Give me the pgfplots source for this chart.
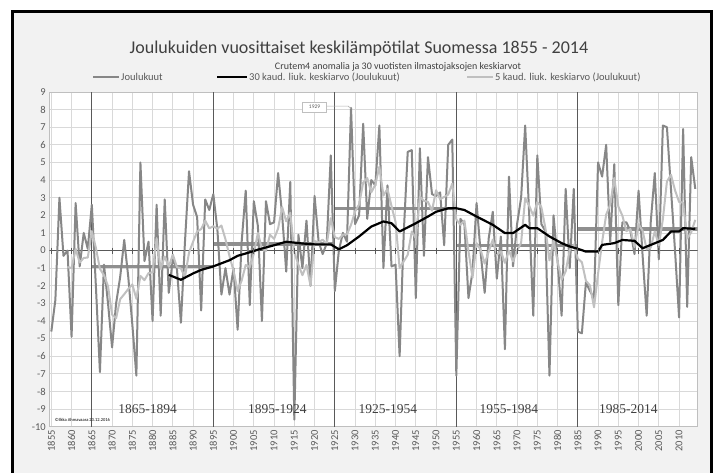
\documentclass[border=0pt]{standalone}
\usepackage{fontspec}
\setmainfont{Carlito}
\newfontfamily\periodfont{Liberation Serif}
\usepackage{pgfplots}
\pgfplotsset{compat=1.18}
\usetikzlibrary{backgrounds}

\definecolor{bggray}{HTML}{F2F2F2}
\definecolor{gridgray}{HTML}{D9D9D9}
\definecolor{framegray}{HTML}{BFBFBF}
\definecolor{tickgray}{HTML}{595959}
\definecolor{maingray}{HTML}{878787}
\definecolor{lightgray5}{HTML}{C0C0C0}
\definecolor{bargray}{HTML}{8F8F8F}
\definecolor{vgray}{HTML}{595959}
\definecolor{titlegray}{HTML}{404040}

\begin{document}
\begin{tikzpicture}
\begin{axis}[
    width=648.4pt, height=334.7pt, scale only axis,
    xmin=1854.5, xmax=2014.6, ymin=-10, ymax=9,
    xtick={1855,1860,...,2010}, ytick={-10,-9,...,9},
    grid=major,
    major grid style={gridgray, line width=0.8pt},
    axis line style={framegray, line width=0.8pt},
    axis background/.style={fill=white},
    tick style={draw=none},
    /pgf/number format/assume math mode=true,
    /pgf/number format/1000 sep={},
    xticklabel style={rotate=90, anchor=east, font=\fontsize{10.5}{12}\selectfont, text=tickgray},
    yticklabel style={font=\fontsize{10.5}{12}\selectfont, text=tickgray},
]
\coordinate (plotSW) at (rel axis cs:0,0);

% zero axis with ticks
\addplot[vgray, line width=1.3pt] coordinates {(1854.5,0) (2014.6,0)};
\addplot[only marks, mark=|, mark size=3pt, vgray, mark options={line width=0.9pt}] coordinates {
(1855,0)(1860,0)(1865,0)(1870,0)(1875,0)(1880,0)(1885,0)(1890,0)(1895,0)(1900,0)(1905,0)
(1910,0)(1915,0)(1920,0)(1925,0)(1930,0)(1935,0)(1940,0)(1945,0)(1950,0)(1955,0)(1960,0)
(1965,0)(1970,0)(1975,0)(1980,0)(1985,0)(1990,0)(1995,0)(2000,0)(2005,0)(2010,0)};

% 30-year period means
\addplot[bargray, line width=3.5pt] coordinates {(1865,-0.91) (1895,-0.91)};
\addplot[bargray, line width=3.5pt] coordinates {(1895,0.36) (1925,0.36)};
\addplot[bargray, line width=3.5pt] coordinates {(1925,2.40) (1955,2.40)};
\addplot[bargray, line width=3.5pt] coordinates {(1955,0.28) (1985,0.28)};
\addplot[bargray, line width=3.5pt] coordinates {(1985,1.23) (2014.6,1.23)};

% period boundaries
\addplot[vgray, line width=1.3pt] coordinates {(1865,-10) (1865,9)};
\addplot[vgray, line width=1.3pt] coordinates {(1895,-10) (1895,9)};
\addplot[vgray, line width=1.3pt] coordinates {(1925,-10) (1925,9)};
\addplot[vgray, line width=1.3pt] coordinates {(1955,-10) (1955,9)};
\addplot[vgray, line width=1.3pt] coordinates {(1985,-10) (1985,9)};

% Joulukuut
\addplot[maingray, line width=2pt, line join=round] coordinates {
(1855,-4.6)(1856,-2.8)(1857,3.0)(1858,-0.3)(1859,0.0)(1860,-4.9)(1861,2.7)(1862,-0.9)(1863,1.0)(1864,0.1)
(1865,2.6)(1866,-2.0)(1867,-6.9)(1868,-0.8)(1869,-3.0)(1870,-5.5)(1871,-3.0)(1872,-1.5)(1873,0.6)(1874,-1.5)
(1875,-4.2)(1876,-7.1)(1877,5.0)(1878,-0.6)(1879,0.5)(1880,-4.0)(1881,2.6)(1882,-3.7)(1883,2.9)(1884,-2.4)
(1885,-0.5)(1886,-1.0)(1887,-4.1)(1888,0.5)(1889,4.5)(1890,2.6)(1891,1.9)(1892,-3.4)(1893,2.9)(1894,2.3)
(1895,3.2)(1896,1.2)(1897,-2.5)(1898,-1.0)(1899,-2.5)(1900,-1.0)(1901,-4.5)(1902,0.5)(1903,3.4)(1904,-3.1)
(1905,2.8)(1906,1.4)(1907,-4.0)(1908,2.8)(1909,1.5)(1910,1.6)(1911,4.4)(1912,2.0)(1913,-1.2)(1914,3.9)
(1915,-9.6)(1916,0.9)(1917,-1.0)(1918,1.7)(1919,-2.0)(1920,3.1)(1921,0.5)(1922,-0.2)(1923,0.4)(1924,5.4)
(1925,-2.3)(1926,0.0)(1927,1.0)(1928,0.5)(1929,8.1)(1930,1.5)(1931,2.0)(1932,7.2)(1933,1.8)(1934,4.0)
(1935,3.7)(1936,7.1)(1937,-1.0)(1938,3.7)(1939,-0.9)(1940,-0.8)(1941,-6.0)(1942,0.9)(1943,5.6)(1944,5.7)
(1945,-2.7)(1946,5.8)(1947,-0.3)(1948,5.3)(1949,3.2)(1950,3.1)(1951,3.3)(1952,0.3)(1953,6.0)(1954,6.3)
(1955,-7.1)(1956,1.8)(1957,1.5)(1958,-2.7)(1959,-1.2)(1960,2.7)(1961,-0.1)(1962,-2.4)(1963,0.7)(1964,2.2)
(1965,-1.6)(1966,0.8)(1967,-5.6)(1968,4.2)(1969,-0.9)(1970,1.5)(1971,3.0)(1972,7.1)(1973,2.0)(1974,-3.7)
(1975,5.4)(1976,1.5)(1977,1.1)(1978,-7.1)(1979,2.0)(1980,-0.6)(1981,-3.7)(1982,3.5)(1983,-1.0)(1984,3.5)
(1985,-4.6)(1986,-4.7)(1987,-1.8)(1988,-2.3)(1989,-2.7)(1990,5.0)(1991,4.2)(1992,6.0)(1993,0.5)(1994,4.9)
(1995,-3.1)(1996,1.6)(1997,1.6)(1998,1.1)(1999,-0.2)(2000,3.4)(2001,-0.3)(2002,-3.7)(2003,1.6)(2004,4.4)
(2005,-0.5)(2006,7.1)(2007,7.0)(2008,3.5)(2009,0.0)(2010,-3.8)(2011,6.9)(2012,-3.2)(2013,5.3)(2014,3.5)};

% 5 year moving average
\addplot[lightgray5, line width=2pt, line join=round] coordinates {
(1859,-0.94)(1860,-1.00)(1861,0.10)(1862,-0.68)(1863,-0.42)(1864,-0.40)
(1865,1.10)(1866,0.16)(1867,-1.04)(1868,-1.40)(1869,-2.02)(1870,-3.64)(1871,-3.84)(1872,-2.76)(1873,-2.48)(1874,-2.18)
(1875,-1.92)(1876,-2.74)(1877,-1.44)(1878,-1.68)(1879,-1.28)(1880,-1.24)(1881,0.70)(1882,-1.04)(1883,-0.34)(1884,-0.92)
(1885,-0.22)(1886,-0.94)(1887,-1.02)(1888,-1.50)(1889,-0.12)(1890,0.50)(1891,1.08)(1892,1.22)(1893,1.70)(1894,1.26)
(1895,1.38)(1896,1.24)(1897,1.42)(1898,0.64)(1899,-0.32)(1900,-1.16)(1901,-2.30)(1902,-1.70)(1903,-0.82)(1904,-0.94)
(1905,-0.18)(1906,1.00)(1907,0.10)(1908,-0.02)(1909,0.90)(1910,0.66)(1911,1.26)(1912,2.46)(1913,1.66)(1914,2.14)
(1915,-0.10)(1916,-0.80)(1917,-1.40)(1918,-0.82)(1919,-2.00)(1920,0.54)(1921,0.46)(1922,0.62)(1923,0.36)(1924,1.84)
(1925,0.76)(1926,0.66)(1927,0.90)(1928,0.92)(1929,1.46)(1930,2.22)(1931,2.62)(1932,3.86)(1933,4.12)(1934,3.30)
(1935,3.74)(1936,4.76)(1937,3.12)(1938,3.50)(1939,2.52)(1940,1.62)(1941,-1.00)(1942,-0.62)(1943,-0.24)(1944,1.08)
(1945,0.70)(1946,3.06)(1947,2.82)(1948,2.76)(1949,2.26)(1950,3.42)(1951,2.92)(1952,3.04)(1953,3.18)(1954,3.80)
(1955,1.76)(1956,1.46)(1957,1.70)(1958,-0.04)(1959,-1.54)(1960,0.42)(1961,0.04)(1962,-0.74)(1963,-0.06)(1964,0.62)
(1965,-0.24)(1966,-0.06)(1967,-0.70)(1968,0.00)(1969,-0.62)(1970,0.00)(1971,0.44)(1972,2.98)(1973,2.54)(1974,1.98)
(1975,2.76)(1976,2.46)(1977,1.26)(1978,-0.56)(1979,0.58)(1980,-0.62)(1981,-1.66)(1982,-1.18)(1983,0.04)(1984,0.34)
(1985,-0.46)(1986,-0.66)(1987,-1.72)(1988,-1.98)(1989,-3.22)(1990,-1.30)(1991,0.48)(1992,2.04)(1993,2.60)(1994,4.12)
(1995,2.50)(1996,1.98)(1997,1.10)(1998,1.22)(1999,0.20)(2000,1.50)(2001,1.12)(2002,0.06)(2003,0.16)(2004,1.08)
(2005,0.30)(2006,1.78)(2007,3.92)(2008,4.30)(2009,3.42)(2010,2.76)(2011,2.72)(2012,0.68)(2013,1.04)(2014,1.74)};

% 30 year moving average
\addplot[black, line width=2.2pt, line join=round] coordinates {
(1884,-1.38)(1887,-1.66)(1890,-1.30)(1892,-1.10)(1895,-0.90)(1899,-0.55)(1901,-0.30)(1904,-0.10)
(1906,0.05)(1910,0.30)(1913,0.50)(1917,0.40)(1920,0.35)(1924,0.35)(1926,0.07)(1928,0.30)(1931,0.80)
(1934,1.36)(1937,1.65)(1939,1.55)(1941,1.08)(1945,1.55)(1948,1.93)(1950,2.20)(1953,2.40)(1955,2.40)
(1957,2.30)(1960,1.93)(1964,1.46)(1967,0.99)(1969,0.99)(1972,1.46)(1973,1.27)(1975,1.27)(1978,0.80)
(1981,0.42)(1983,0.23)(1985,0.10)(1987,-0.06)(1990,-0.06)(1991,0.32)(1994,0.42)(1996,0.60)(1999,0.55)
(2001,0.13)(2003,0.32)(2006,0.60)(2008,1.08)(2010,1.08)(2011,1.27)(2014,1.23)};

% period labels
\begin{scope}[font=\periodfont\fontsize{13.5}{15}\selectfont, text=titlegray]
\node at (axis cs:1878.8,-9) {1865-1894};
\node at (axis cs:1910.8,-9) {1895-1924};
\node at (axis cs:1938.1,-9) {1925-1954};
\node at (axis cs:1968.0,-9) {1955-1984};
\node at (axis cs:1997.5,-9) {1985-2014};
\end{scope}
\node[anchor=west, font=\fontsize{4.5}{5}\selectfont, inner sep=0pt] at (axis cs:1855.8,-9.6) {©Ilkka Ahmavaara 23.12.2016};

% callout for 1929
\draw[gray!60, line width=0.6pt] (axis cs:1923.0,8.2) -- (axis cs:1928.3,8.2) -- (axis cs:1929,8.05);
\node[draw=gray!50, fill=white, font=\fontsize{5.5}{6}\selectfont, text=tickgray, minimum width=24pt, minimum height=10pt, inner sep=1pt] at (axis cs:1920.0,8.15) {1929};
\end{axis}

% chart frame, titles and legend, in pixel units from the plot corner
\begin{scope}[shift={(plotSW)}, x=1pt, y=1pt, shift={(-49.3,-46.3)}]
\begin{scope}[on background layer]
\fill[white] (0,0) rectangle (718,473);
\fill[bggray] (13,0) rectangle (711,461);
\end{scope}
\draw[line width=3pt] (13,-10) -- (13,461) -- (711,461) -- (711,-10);

\node[font=\fontsize{18}{20}\selectfont, text=titlegray] at (359,424) {Joulukuiden vuosittaiset keskilämpötilat Suomessa 1855 - 2014};
\node[font=\fontsize{10}{12}\selectfont, text=titlegray] at (398,406) {Crutem4 anomalia ja 30 vuotisten ilmastojaksojen keskiarvot};

\begin{scope}[font=\fontsize{10.5}{12}\selectfont]
\draw[maingray, line width=2pt] (93,396) -- (119,396);
\node[anchor=west, text=tickgray, inner sep=1pt] at (120,396) {Joulukuut};
\draw[black, line width=2.2pt] (217,396) -- (247,396);
\node[anchor=west, text=tickgray, inner sep=1pt] at (248,396) {30 kaud. liuk. keskiarvo (Joulukuut)};
\draw[lightgray5, line width=2pt] (467,396) -- (493,396);
\node[anchor=west, text=tickgray, inner sep=1pt] at (494,396) {5 kaud. liuk. keskiarvo (Joulukuut)};
\end{scope}

\pgfresetboundingbox
\path[use as bounding box] (0,0) rectangle (718,473);
\end{scope}
\end{tikzpicture}
\end{document}
